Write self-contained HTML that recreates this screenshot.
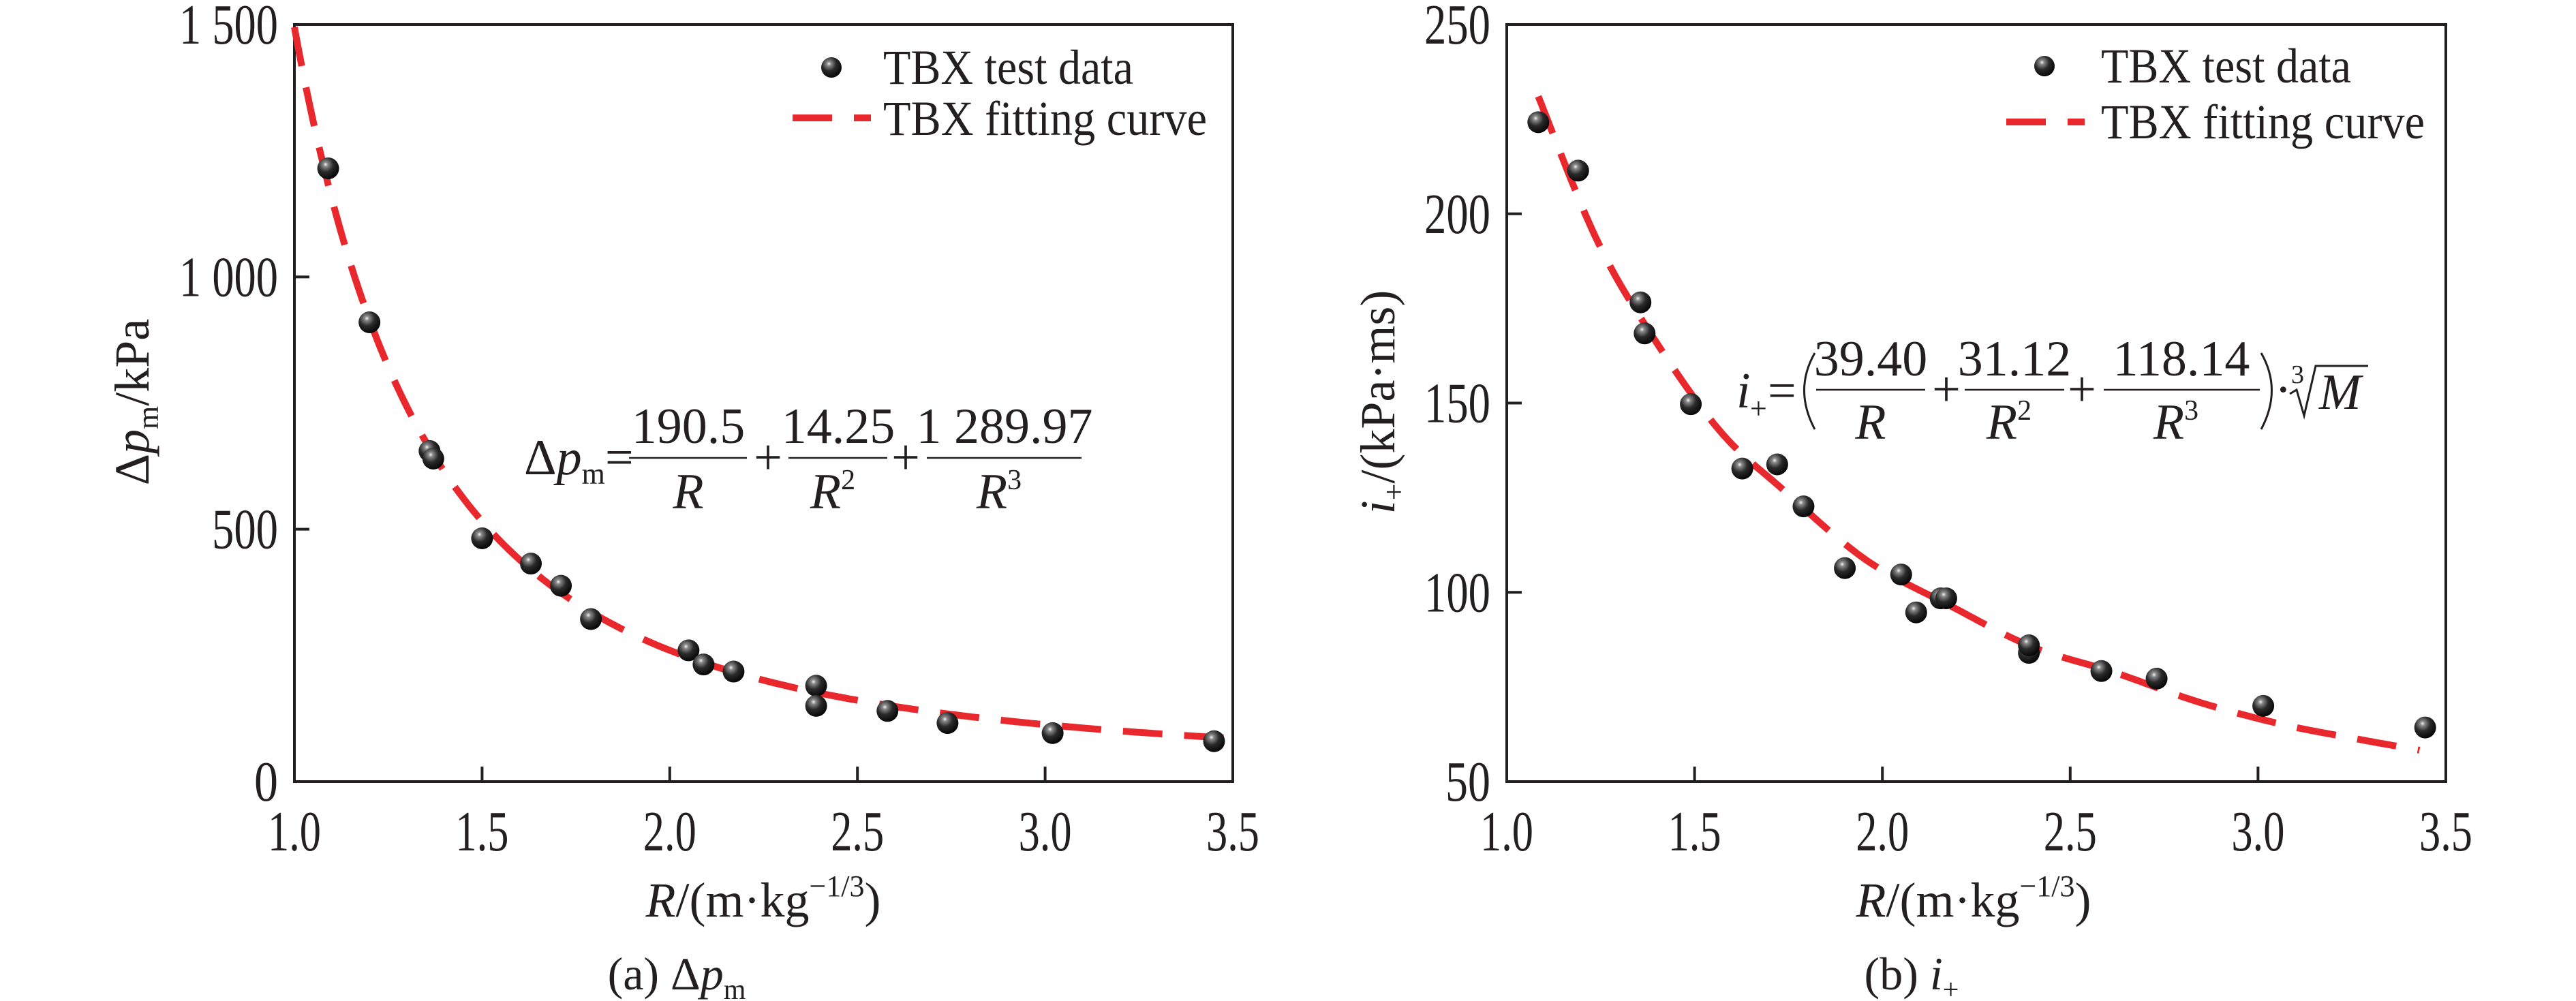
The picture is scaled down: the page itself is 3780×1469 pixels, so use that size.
<!DOCTYPE html>
<html><head><meta charset="utf-8"><style>
html,body{margin:0;padding:0;background:#fff;}
svg{display:block;}
svg, text, tspan{font-family:"Liberation Serif","DejaVu Serif",serif;}
text{fill:#231f20;}
</style></head><body>
<svg id="s" width="3780" height="1469" viewBox="0 0 3780 1469" xmlns="http://www.w3.org/2000/svg" font-family="Liberation Serif, DejaVu Serif, serif">
<defs>
<radialGradient id="ball" cx="0.38" cy="0.32" r="0.7">
<stop offset="0" stop-color="#f4f4f4"/><stop offset="0.15" stop-color="#8a8a8a"/><stop offset="0.5" stop-color="#2a2a2a"/><stop offset="1" stop-color="#050505"/>
</radialGradient>
</defs>
<g id="g"></g>
<g font-size="72">
<text x="1296" y="123" textLength="367" lengthAdjust="spacingAndGlyphs">TBX test data</text>
<text x="1296" y="198" textLength="475" lengthAdjust="spacingAndGlyphs">TBX fitting curve</text>
<text x="3083" y="121" textLength="367" lengthAdjust="spacingAndGlyphs">TBX test data</text>
<text x="3083" y="203" textLength="475" lengthAdjust="spacingAndGlyphs">TBX fitting curve</text>
</g>
<line x1="1163" y1="173" x2="1278" y2="173" stroke="#e8282d" stroke-width="10" stroke-dasharray="58,32"/>
<line x1="2944" y1="179" x2="3059" y2="179" stroke="#e8282d" stroke-width="10" stroke-dasharray="58,32"/>
<circle cx="1220" cy="99" r="15" fill="url(#ball)"/>
<circle cx="3000" cy="97" r="15" fill="url(#ball)"/>
<text x="1120" y="1345" font-size="72" text-anchor="middle"><tspan font-style="italic">R</tspan>/(m·kg<tspan font-size="44" dy="-30">−1/3</tspan><tspan dy="30">)</tspan></text>
<text x="2896" y="1345" font-size="72" text-anchor="middle"><tspan font-style="italic">R</tspan>/(m·kg<tspan font-size="44" dy="-30">−1/3</tspan><tspan dy="30">)</tspan></text>
<text x="993" y="1452" font-size="68" text-anchor="middle">(a) Δ<tspan font-style="italic">p</tspan><tspan font-size="42" dy="14">m</tspan></text>
<text x="2805" y="1452" font-size="68" text-anchor="middle">(b) <tspan font-style="italic">i</tspan><tspan font-size="42" dy="14">+</tspan></text>
<text transform="translate(218,590) rotate(-90)" font-size="72" text-anchor="middle">Δ<tspan font-style="italic">p</tspan><tspan font-size="44" dy="14">m</tspan><tspan dy="-14">/kPa</tspan></text>
<text transform="translate(2046,590) rotate(-90)" font-size="72" text-anchor="middle"><tspan font-style="italic">i</tspan><tspan font-size="44" dy="14">+</tspan><tspan dy="-14">/(kPa·ms)</tspan></text>
<g font-size="74">
<text x="769" y="696">Δ<tspan font-style="italic">p</tspan><tspan font-size="44" dy="14">m</tspan><tspan dy="-14">=</tspan></text>
<text x="1010" y="650" text-anchor="middle">190.5</text>
<text x="1010" y="746" text-anchor="middle" font-style="italic">R</text>
<text x="1127" y="696" text-anchor="middle">+</text>
<text x="1230" y="650" text-anchor="middle">14.25</text>
<text x="1222" y="746" text-anchor="middle"><tspan font-style="italic">R</tspan><tspan font-size="42" dy="-28">2</tspan></text>
<text x="1329" y="696" text-anchor="middle">+</text>
<text x="1474" y="650" text-anchor="middle">1 289.97</text>
<text x="1466" y="746" text-anchor="middle"><tspan font-style="italic">R</tspan><tspan font-size="42" dy="-28">3</tspan></text>
</g>
<g stroke="#231f20" stroke-width="2.5">
<line x1="923" y1="672" x2="1096" y2="672"/><line x1="1157" y1="672" x2="1302" y2="672"/><line x1="1360" y1="672" x2="1587" y2="672"/>
<line x1="2665" y1="572" x2="2825" y2="572"/><line x1="2883" y1="572" x2="3029" y2="572"/><line x1="3087" y1="572" x2="3316" y2="572"/>
</g>
<g font-size="74">
<text x="2548" y="598" font-style="italic">i</text><text x="2568" y="614" font-size="44">+</text><text x="2594" y="598">=</text>
<text x="2745" y="551" text-anchor="middle">39.40</text>
<text x="2745" y="644" text-anchor="middle" font-style="italic">R</text>
<text x="2856" y="596" text-anchor="middle">+</text>
<text x="2956" y="551" text-anchor="middle">31.12</text>
<text x="2948" y="644" text-anchor="middle"><tspan font-style="italic">R</tspan><tspan font-size="42" dy="-28">2</tspan></text>
<text x="3055" y="596" text-anchor="middle">+</text>
<text x="3201" y="551" text-anchor="middle">118.14</text>
<text x="3193" y="644" text-anchor="middle"><tspan font-style="italic">R</tspan><tspan font-size="42" dy="-28">3</tspan></text>
<text x="3338" y="596">·</text>
<text x="3362" y="562" font-size="38">3</text>
<text x="3403" y="600" font-style="italic">M</text>
</g>
<path d="M2663,518 Q2632,572 2663,630" fill="none" stroke="#231f20" stroke-width="3"/>
<path d="M3318,518 Q3349,572 3318,630" fill="none" stroke="#231f20" stroke-width="3"/>
<path d="M3360,578 L3370,572 L3381,610 L3398,537 L3475,537" fill="none" stroke="#231f20" stroke-width="3"/>
</svg>
<script>
var NS="http://www.w3.org/2000/svg",G=document.getElementById("g");
function el(t,a,p){var e=document.createElementNS(NS,t);for(var k in a)e.setAttribute(k,a[k]);(p||G).appendChild(e);return e;}
function plot(X0,X1,Y0,Y1,ymin,ymax,yt,ylab,pts,curve){
 var sx=function(r){return X0+(r-1)/2.5*(X1-X0)},sy=function(v){return Y1-(v-ymin)/(ymax-ymin)*(Y1-Y0)};
 el("rect",{x:X0,y:Y0,width:X1-X0,height:Y1-Y0,fill:"none",stroke:"#231f20","stroke-width":4});
 for(var i=0;i<6;i++){var r=1+i*0.5,x=sx(r);
  el("line",{x1:x,y1:Y1,x2:x,y2:Y1-22,stroke:"#231f20","stroke-width":4});
  var t=el("text",{x:x,y:1248,"font-size":84,"text-anchor":"middle",textLength:78,lengthAdjust:"spacingAndGlyphs"});t.textContent=r.toFixed(1);}
 for(var j=0;j<yt.length;j++){var y=sy(yt[j]);
  el("line",{x1:X0,y1:y,x2:X0+22,y2:y,stroke:"#231f20","stroke-width":4});
  var s=ylab[j],t=el("text",{x:X0-24,y:y+28,"font-size":84,"text-anchor":"end",textLength:s.length*31+(s.indexOf(" ")>=0?-10:4),lengthAdjust:"spacingAndGlyphs"});t.textContent=s;}
 var d="";for(var k=0;k<curve.length;k++)d+=(k?"L":"M")+sx(curve[k][0]).toFixed(1)+","+sy(curve[k][1]).toFixed(1);
 el("path",{d:d,fill:"none",stroke:"#e8282d","stroke-width":10,"stroke-dasharray":"58,32"});
 for(var m=0;m<pts.length;m++)el("circle",{cx:sx(pts[m][0]),cy:sy(pts[m][1]),r:16,fill:"url(#ball)"});
}
var c1=[];for(var r=1;r<=3.5001;r+=0.01)c1.push([r,190.5/r+14.25/r/r+1289.97/r/r/r]);
plot(432,1809,36,1147,0,1500,[0,500,1000,1500],["0","500","1 000","1 500"],
[[1.09,1215],[1.20,910],[1.36,655],[1.37,640],[1.50,482],[1.63,432],[1.71,388],[1.79,322],[2.05,260],[2.09,232],[2.17,218],[2.39,190],[2.39,150],[2.58,140],[2.74,116],[3.02,96],[3.45,80]],c1);
var kn=[[1.084,231],[1.231,195],[1.363,171.5],[1.56,143.5],[1.737,127],[1.956,108.6],[2.176,96.7],[2.396,85.7],[2.616,78.9],[2.836,71.2],[3.056,65.3],[3.25,61.5],[3.43,58.3]];
var c2=[];for(var i=0;i<kn.length-1;i++){var p0=kn[Math.max(0,i-1)],p1=kn[i],p2=kn[i+1],p3=kn[Math.min(kn.length-1,i+2)];
 for(var t=0;t<1;t+=0.05){var t2=t*t,t3=t2*t;var f=function(a,b,c,d){return 0.5*(2*b+(-a+c)*t+(2*a-5*b+4*c-d)*t2+(-a+3*b-3*c+d)*t3)};
 c2.push([f(p0[0],p1[0],p2[0],p3[0]),f(p0[1],p1[1],p2[1],p3[1])]);}}
c2.push(kn[kn.length-1]);
plot(2211,3589,36,1147,50,250,[50,100,150,200,250],["50","100","150","200","250"],
[[1.084,224.2],[1.19,211.4],[1.356,176.6],[1.367,168.4],[1.49,149.7],[1.627,132.7],[1.72,133.8],[1.79,122.7],[1.9,106.4],[2.05,104.7],[2.09,94.7],[2.155,98.4],[2.17,98.4],[2.39,84],[2.39,86],[2.583,79.2],[2.73,77.2],[3.014,70],[3.445,64.3]],c2);
</script>
</body></html>
